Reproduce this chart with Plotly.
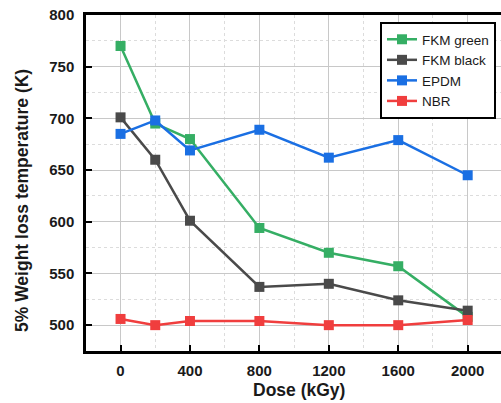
import plotly.graph_objects as go

dose = [0, 200, 400, 800, 1200, 1600, 2000]
fkm_green = [770, 695, 680, 594, 570, 557, 508]
fkm_black = [701, 660, 601, 537, 540, 524, 514]
epdm = [685, 698, 669, 689, 662, 679, 645]
nbr = [506, 500, 504, 504, 500, 500, 505]

series = [
    ("FKM green", fkm_green, "#35ae64"),
    ("FKM black", fkm_black, "#4a4a4a"),
    ("EPDM", epdm, "#1a6fe3"),
    ("NBR", nbr, "#f03e3e"),
]

x_ticks = [0, 400, 800, 1200, 1600, 2000]
y_ticks = [500, 550, 600, 650, 700, 750, 800]
x_title = "Dose (kGy)"
y_title = "5% Weight loss temperature (K)"

W, H = 501, 403
L, R, T, B = 86, 0, 15, 52
pw, ph = W - L - R, H - T - B

fig = go.Figure()
for name, vals, color in series:
    fig.add_trace(go.Scatter(
        x=dose, y=vals, name=name, mode="lines+markers",
        line=dict(color=color, width=2.5),
        marker=dict(symbol="square", size=10, color=color),
    ))

font_family = "Liberation Sans, Arial, sans-serif"
fig.update_layout(
    width=W, height=H,
    margin=dict(l=L, r=R, t=T, b=B, autoexpand=False),
    paper_bgcolor="white", plot_bgcolor="white",
    font=dict(family=font_family, color="#1a1a1a"),
    showlegend=True,
    legend=dict(
        x=(380 - L) / pw, y=(H - B - 22) / ph, xanchor="left", yanchor="top",
        bgcolor="white", bordercolor="black", borderwidth=2,
        font=dict(size=13.5, family=font_family, color="#1a1a1a"),
        tracegroupgap=0, itemwidth=30,
    ),
    xaxis=dict(
        automargin=False,
        range=[-199, 2192],
        tickvals=x_ticks, ticktext=[str(v) for v in x_ticks],
        ticks="inside", ticklen=6, tickwidth=2, tickcolor="black",
        showline=True, linecolor="black", linewidth=2.5, mirror=True,
        showgrid=True, gridcolor="#c8c8c8", gridwidth=1,
        minor=dict(tickvals=[200, 600, 1000, 1400, 1800], showgrid=True,
                   gridcolor="#dcdcdc", griddash="dot", gridwidth=1, ticks=""),
        zeroline=False,
        ticklabelstandoff=4,
        tickfont=dict(size=15, weight="bold", family=font_family),
    ),
    yaxis=dict(
        automargin=False,
        range=[475, 800],
        tickvals=y_ticks,
        ticks="inside", ticklen=6, tickwidth=2, tickcolor="black",
        showline=True, linecolor="black", linewidth=2.5, mirror=False,
        showgrid=True, gridcolor="#c8c8c8", gridwidth=1,
        minor=dict(tickvals=[525, 575, 625, 675, 725, 775], showgrid=True,
                   gridcolor="#dcdcdc", griddash="dot", gridwidth=1, ticks=""),
        zeroline=False,
        ticklabelstandoff=6,
        tickfont=dict(size=15, weight="bold", family=font_family),
    ),
    annotations=[
        dict(text=x_title, xref="paper", yref="paper",
             x=(299 - L) / pw, y=(H - B - 390) / ph, xanchor="center", yanchor="middle",
             showarrow=False, font=dict(size=17.5, weight="bold", family=font_family)),
        dict(text=y_title, xref="paper", yref="paper", textangle=-90,
             x=(22 - L) / pw, y=(H - B - 201) / ph, xanchor="center", yanchor="middle",
             showarrow=False, font=dict(size=17.5, weight="bold", family=font_family)),
    ],
)

fig.write_html(
    "out.html",
    config={"displayModeBar": False},
    post_script="document.body.style.margin='0';document.body.style.overflow='hidden';",
)
